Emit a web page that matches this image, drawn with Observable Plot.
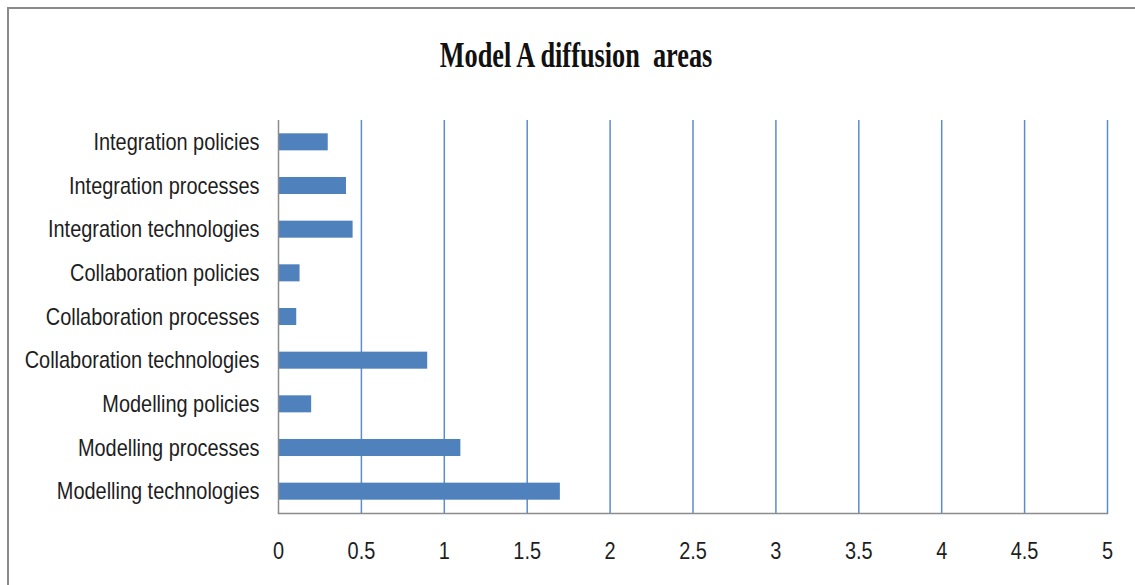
<!DOCTYPE html>
<html>
<head>
<meta charset="utf-8">
<script src="https://cdn.jsdelivr.net/npm/d3@7"></script>
<script src="https://cdn.jsdelivr.net/npm/@observablehq/plot@0.6"></script>
<style>
  html, body { margin: 0; padding: 0; background: #fff; }
  #wrap { position: relative; width: 1135px; height: 585px; overflow: hidden; }
  #frame { position: absolute; left: 7px; top: 7px; width: 1200px; height: 700px;
           border-left: 2px solid #8a8a8a; border-top: 2px solid #8a8a8a; box-sizing: border-box; }
  #title { position: relative; height: 100px; }
  #title span { position: absolute; left: 576px; top: 37px; white-space: pre;
           font-family: "Liberation Serif", "Times New Roman", serif; font-weight: bold;
           font-size: 36px; line-height: 36px; color: #111;
           transform: translateX(-50%) scaleX(0.73); transform-origin: center; }
  #chart svg { display: block; }
</style>
</head>
<body>
<div id="wrap">
  <div id="frame"></div>
  <div id="title"><span>Model A diffusion  areas</span></div>
  <div id="chart"></div>
</div>
<script>
const categories = [
  "Integration policies",
  "Integration processes",
  "Integration technologies",
  "Collaboration policies",
  "Collaboration processes",
  "Collaboration technologies",
  "Modelling policies",
  "Modelling processes",
  "Modelling technologies"
];
const values = [0.30, 0.41, 0.45, 0.13, 0.11, 0.90, 0.20, 1.10, 1.70];
const xTicks = [0, 0.5, 1, 1.5, 2, 2.5, 3, 3.5, 4, 4.5, 5];
const xTickLabels = ["0", "0.5", "1", "1.5", "2", "2.5", "3", "3.5", "4", "4.5", "5"];

const data = categories.map((c, i) => ({category: c, value: values[i]}));
const gridTicks = xTicks.filter(t => t > 0);

const labelFont = '"Liberation Sans", Arial, sans-serif';

const chart = Plot.plot({
  width: 1135,
  height: 485,
  marginTop: 20,
  marginBottom: 72,
  marginLeft: 278,
  marginRight: 28,
  style: {fontFamily: labelFont, fontSize: "24px", color: "#1e1e1e", background: "transparent"},
  x: {domain: [0, 5], label: null},
  y: {domain: categories, paddingInner: 0.61, paddingOuter: 0.305, align: 0.5, round: false, label: null},
  marks: [
    Plot.ruleX(gridTicks, {stroke: "#5b8ccb", strokeWidth: 1.5}),
    Plot.barX(data, {x: "value", y: "category", fill: "#4f81bd"}),
    Plot.ruleX([0], {stroke: "#8c8c8c", strokeWidth: 1.5}),
    Plot.frame({anchor: "bottom", stroke: "#8c8c8c", strokeWidth: 1.5}),
    Plot.axisX({ticks: xTicks, tickFormat: (d) => xTickLabels[xTicks.indexOf(d)], tickSize: 0, tickPadding: 28, label: null, fontSize: 24}),
    Plot.axisY({tickSize: 0, tickPadding: 19, label: null, fontSize: 24})
  ]
});
document.getElementById("chart").appendChild(chart);

// Condense the tick-label glyphs horizontally to match the narrow face of the original.
const squeeze = 0.83;
chart.querySelectorAll('g[aria-label="y-axis tick label"] text, g[aria-label="x-axis tick label"] text').forEach(t => {
  const w = t.getComputedTextLength();
  t.setAttribute("textLength", (w * squeeze).toFixed(1));
  t.setAttribute("lengthAdjust", "spacingAndGlyphs");
});
</script>
</body>
</html>
